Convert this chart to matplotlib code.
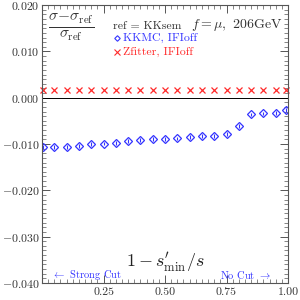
import numpy as np
import matplotlib
matplotlib.use("Agg")
import matplotlib.pyplot as plt
from matplotlib.ticker import MultipleLocator

# x = 1 - s'_min/s
x_cut = [0.003, 0.05, 0.10, 0.15, 0.20, 0.25, 0.30, 0.35, 0.40, 0.45, 0.50,
         0.55, 0.60, 0.65, 0.70, 0.75, 0.80, 0.85, 0.90, 0.95, 0.99]
# KKMC, IFIoff relative to KKsem
kkmc = [-0.0106, -0.0107, -0.0106, -0.0105, -0.0100, -0.0099, -0.0098,
        -0.0094, -0.0091, -0.0089, -0.0089, -0.0088, -0.0085, -0.0083,
        -0.0082, -0.0079, -0.0061, -0.0036, -0.0034, -0.0033, -0.0027]
kkmc_err = [0.0004] * 21
# Zfitter, IFIoff relative to KKsem
zfit = [0.0016] * 21

plt.rcParams['font.family'] = 'serif'
plt.rcParams['font.serif'] = ['cmr10', 'DejaVu Serif']
plt.rcParams['mathtext.fontset'] = 'cm'
plt.rcParams['axes.formatter.use_mathtext'] = True

blue = '#3333ff'
red = '#ff2a2a'

fig = plt.figure(figsize=(3, 3), dpi=100)
ax = fig.add_axes([0.14, 0.057, 0.82, 0.926])

ax.axhline(0, color='black', lw=0.7)
ax.errorbar(x_cut, kkmc, yerr=kkmc_err, fmt='D', mfc='none', mec=blue,
            ecolor=blue, ms=3.6, mew=0.9, elinewidth=0.8, capsize=0)
ax.plot(x_cut, zfit, 'x', color=red, ms=5, mew=0.9, clip_on=False)

ax.set_xlim(0, 1)
ax.set_ylim(-0.04, 0.02)
ax.set_xticks([0.25, 0.50, 0.75, 1.00])
ax.set_xticklabels(['0.25', '0.50', '0.75', '1.00'])
ax.set_yticks([-0.04, -0.03, -0.02, -0.01, 0.0, 0.01, 0.02])
ax.set_yticklabels(['$-0.040$', '$-0.030$', '$-0.020$', '$-0.010$',
                    '$0.000$', '$0.010$', '$0.020$'])
ax.xaxis.set_minor_locator(MultipleLocator(0.025))
ax.yaxis.set_minor_locator(MultipleLocator(0.001))
ax.tick_params(which='both', direction='in', top=True, right=True,
               labelsize=8.5, color='#555555', labelcolor='#333333')
ax.tick_params(axis='y', pad=2)
ax.tick_params(which='major', length=6, width=0.7)
ax.tick_params(which='minor', length=3, width=0.5)
for s in ax.spines.values():
    s.set_color('#555555')
    s.set_linewidth(0.8)

ax.text(0.12, 0.922, r'$\frac{\sigma\!-\!\sigma_{\rm ref}}{\sigma_{\rm ref}}$',
        transform=ax.transAxes, ha='center', va='center', fontsize=16,
        color='#333333')
ax.text(0.29, 0.924, 'ref = KKsem', transform=ax.transAxes, ha='left',
        va='center', fontsize=8.5, color='#333333')
ax.plot([0.305], [0.881], 'D', transform=ax.transAxes, mfc='none', mec=blue,
        ms=2.8, mew=0.8)
ax.text(0.33, 0.881, 'KKMC, IFIoff', transform=ax.transAxes, ha='left',
        va='center', fontsize=8.5, color=blue)
ax.plot([0.305], [0.831], 'x', transform=ax.transAxes, color=red, ms=4,
        mew=0.8)
ax.text(0.33, 0.831, 'Zfitter, IFIoff', transform=ax.transAxes, ha='left',
        va='center', fontsize=8.5, color=red)
ax.text(0.98, 0.93, r'$f=\mu,$ 206GeV', transform=ax.transAxes, ha='right',
        va='center', fontsize=10, color='#333333')
ax.text(0.5, 0.075, r"$1-s^{\prime}_{\rm min}/s$", transform=ax.transAxes,
        ha='center', va='center', fontsize=13, color='#222222')
ax.text(0.04, 0.03, r'$\leftarrow$ Strong Cut', transform=ax.transAxes,
        ha='left', va='center', fontsize=7.5, color=blue)
ax.text(0.93, 0.03, r'No Cut $\rightarrow$', transform=ax.transAxes,
        ha='right', va='center', fontsize=7.5, color=blue)

fig.savefig('out.png', dpi=100)
